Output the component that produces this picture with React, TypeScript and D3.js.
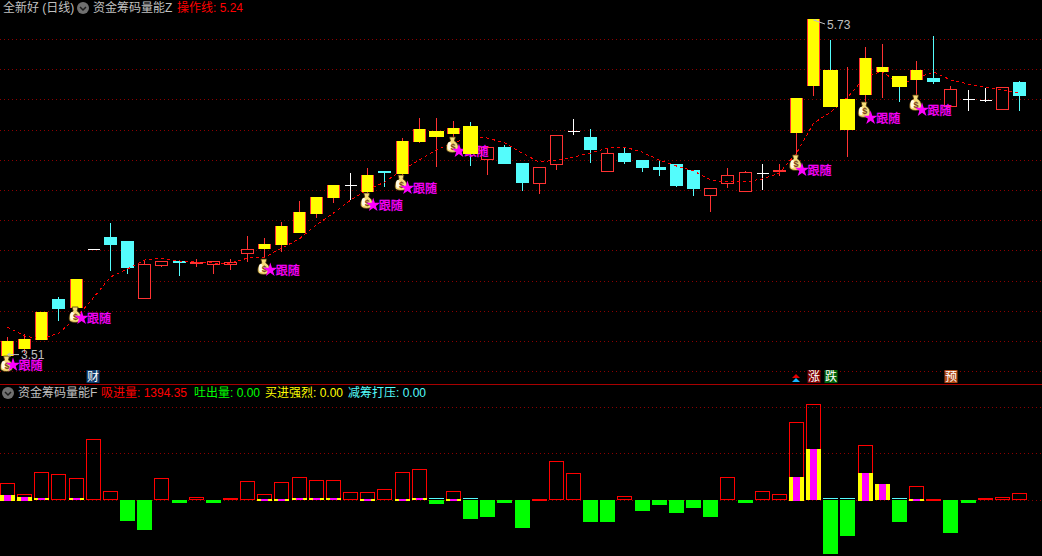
import React, { useEffect, useRef } from 'react';
import * as d3 from 'd3';

// Candles
const opens = [3.51, 3.553, 3.613, 3.878, 3.825, 4.209, 4.289, 4.262, 3.885, 4.103, 4.13, 4.116, 4.11, 4.11, 4.183, 4.216, 4.242, 4.322, 4.447, 4.553, 4.633, 4.593, 4.726, 4.712, 4.924, 4.957, 4.977, 5.024, 4.805, 4.884, 4.779, 4.646, 4.772, 4.99, 4.951, 4.726, 4.845, 4.798, 4.752, 4.772, 4.732, 4.567, 4.646, 4.593, 4.712, 4.726, 4.984, 5.295, 5.395, 5.004, 5.236, 5.388, 5.355, 5.335, 5.341, 5.156, 5.202, 5.196, 5.136, 5.315];
const closes = [3.6, 3.613, 3.792, 3.818, 4.01, 4.209, 4.242, 4.09, 4.11, 4.13, 4.123, 4.123, 4.13, 4.123, 4.209, 4.242, 4.361, 4.454, 4.553, 4.633, 4.633, 4.699, 4.719, 4.924, 5.004, 4.99, 5.01, 4.845, 4.884, 4.779, 4.653, 4.752, 4.964, 4.99, 4.871, 4.845, 4.792, 4.752, 4.739, 4.633, 4.613, 4.613, 4.699, 4.719, 4.712, 4.732, 5.209, 5.732, 5.156, 5.202, 5.474, 5.415, 5.289, 5.395, 5.322, 5.269, 5.202, 5.196, 5.282, 5.229];
const highs = [3.626, 3.646, 3.792, 3.891, 4.01, 4.209, 4.381, 4.262, 4.13, 4.13, 4.13, 4.143, 4.13, 4.143, 4.295, 4.282, 4.388, 4.527, 4.553, 4.633, 4.712, 4.745, 4.726, 4.944, 5.077, 5.077, 5.057, 5.05, 4.884, 4.898, 4.779, 4.752, 4.964, 5.07, 5.004, 4.878, 4.884, 4.798, 4.792, 4.772, 4.732, 4.613, 4.745, 4.726, 4.772, 4.772, 5.209, 5.732, 5.593, 5.415, 5.547, 5.567, 5.355, 5.454, 5.62, 5.289, 5.262, 5.275, 5.282, 5.322];
const lows = [3.51, 3.52, 3.613, 3.732, 3.792, 4.209, 4.063, 4.043, 3.885, 4.09, 4.03, 4.09, 4.043, 4.07, 4.123, 4.149, 4.189, 4.322, 4.414, 4.514, 4.533, 4.533, 4.62, 4.666, 4.911, 4.752, 4.931, 4.759, 4.699, 4.772, 4.593, 4.573, 4.732, 4.964, 4.779, 4.726, 4.772, 4.719, 4.692, 4.62, 4.56, 4.454, 4.613, 4.593, 4.6, 4.692, 4.831, 5.222, 5.156, 4.818, 5.176, 5.209, 5.182, 5.229, 5.302, 5.156, 5.123, 5.182, 5.13, 5.123];
// 0 normal candle, 1 yellow with the red edge showing, 2 wide plain yellow
const highlight = [1, 1, 1, 0, 1, 0, 0, 0, 0, 0, 0, 0, 0, 0, 0, 1, 1, 1, 1, 1, 0, 1, 0, 1, 1, 2, 1, 2, 0, 0, 0, 0, 0, 0, 0, 0, 0, 0, 0, 0, 0, 0, 0, 0, 0, 0, 1, 1, 2, 2, 1, 1, 2, 1, 0, 0, 0, 0, 0, 0];
// 操作线
const operateLine = [3.692, 3.633, 3.613, 3.653, 3.752, 3.885, 4.024, 4.077, 4.136, 4.149, 4.13, 4.123, 4.116, 4.116, 4.149, 4.156, 4.216, 4.275, 4.368, 4.447, 4.533, 4.6, 4.653, 4.732, 4.798, 4.865, 4.911, 4.951, 4.944, 4.911, 4.845, 4.785, 4.798, 4.818, 4.845, 4.878, 4.884, 4.851, 4.798, 4.759, 4.726, 4.666, 4.653, 4.653, 4.673, 4.712, 4.845, 5.043, 5.116, 5.216, 5.348, 5.388, 5.295, 5.341, 5.381, 5.328, 5.302, 5.282, 5.262, 5.24];
const priceTicks = [5.6, 5.4, 5.2, 5.0, 4.8, 4.6, 4.4, 4.2, 4.0, 3.8, 3.6, 3.4];

// 跟随 signals
const signalBars = [0, 4, 15, 21, 23, 26, 46, 50, 53];
const bagPrices = [3.447, 3.772, 4.09, 4.527, 4.646, 4.898, 4.779, 5.13, 5.176];
const tagPrices = [3.441, 3.752, 4.07, 4.5, 4.613, 4.858, 4.732, 5.077, 5.13];

// Lower panel
const inflow = [3650, 1120, 5850, 5420, 4560, 12940, 1760, 0, 0, 4560, 0, 470, 0, 320, 3910, 1120, 3700, 4770, 4130, 4130, 1550, 1550, 2190, 5850, 6490, 0, 1760, 0, 0, 0, 0, 200, 8210, 5630, 0, 0, 690, 0, 0, 0, 0, 0, 4770, 0, 1760, 1120, 16600, 20470, 0, 0, 11650, 3330, 0, 2840, 200, 0, 0, 320, 470, 1394.35];
const outflow = [0, 0, 0, 0, 0, 0, 0, 4730, 6560, 0, 750, 0, 750, 0, 0, 0, 0, 0, 0, 0, 0, 0, 0, 0, 0, 970, 0, 4190, 3760, 750, 6130, 0, 0, 0, 4840, 4840, 0, 2470, 1180, 2900, 1830, 3760, 0, 750, 0, 0, 0, 0, 11720, 7850, 0, 0, 4840, 0, 0, 7200, 750, 0, 0, 0];
const strongBuy = [970, 540, 320, 0, 320, 0, 0, 0, 0, 0, 0, 0, 0, 0, 0, 150, 150, 320, 320, 320, 0, 150, 0, 150, 320, 0, 150, 0, 0, 0, 0, 0, 0, 0, 0, 0, 0, 0, 0, 0, 0, 0, 0, 0, 0, 0, 4840, 10860, 0, 0, 5700, 3330, 0, 150, 0, 0, 0, 0, 0, 0];
const pressure = [0, 0, 0, 0, 0, 0, 0, 0, 0, 0, 0, 0, 0, 0, 0, 0, 0, 0, 0, 0, 0, 0, 0, 0, 0, 150, 0, 150, 0, 0, 0, 0, 0, 0, 0, 0, 0, 0, 0, 0, 0, 0, 0, 0, 0, 0, 0, 0, 320, 320, 0, 0, 150, 0, 0, 0, 0, 0, 0, 0];
const volumeTicks = [20000, 10000, 0];

// Event tags under the candles
const eventBars = [5, 47, 48, 55];
const eventTexts = ['财', '涨', '跌', '预'];
const eventColors = ['#0e3a6b', '#7d0000', '#00640a', '#b04a16'];

const RED = '#ff3232';
const CYAN = '#54fcfc';
const MAGENTA = '#ff00ff';
const GREY = '#c0c0c0';
const FONT = '"Liberation Sans", "Noto Sans CJK SC", sans-serif';

const App: React.FC = () => {
  const svgRef = useRef<SVGSVGElement>(null);

  useEffect(() => {
    if (!svgRef.current) return;
    document.body.style.margin = '0';
    document.body.style.background = '#000';

    const svg = d3.select(svgRef.current);
    svg.selectAll('*').remove();
    svg.attr('width', 1042).attr('height', 556).style('display', 'block').style('font-family', FONT);

    svg.append('rect').attr('width', 1042).attr('height', 556).attr('fill', '#000');

    const bars = d3.range(opens.length);
    const xScale = d3.scaleLinear().domain([0, opens.length - 1]).range([7.5, 1019.5]);
    const yScale = d3.scaleLinear().domain([5.6, 3.4]).range([39, 371.2]);
    const vScale = d3.scaleLinear().domain([0, 20000]).range([499.5, 406.5]);

    const crisp = (v: number) => Math.round(v) + 0.5;

    // Grid
    const grid = svg.append('g').attr('shape-rendering', 'crispEdges');
    grid.selectAll('.price-grid')
      .data(priceTicks)
      .enter()
      .append('line')
      .attr('x1', 0)
      .attr('x2', 1042)
      .attr('y1', d => crisp(yScale(d)))
      .attr('y2', d => crisp(yScale(d)))
      .attr('stroke', '#8c0000')
      .attr('stroke-dasharray', '1 3');
    grid.selectAll('.volume-grid')
      .data(volumeTicks)
      .enter()
      .append('line')
      .attr('x1', 0)
      .attr('x2', 1042)
      .attr('y1', d => crisp(vScale(d)))
      .attr('y2', d => crisp(vScale(d)))
      .attr('stroke', '#8c0000')
      .attr('stroke-dasharray', '1 3');
    grid.append('line')
      .attr('x1', 0)
      .attr('x2', 1042)
      .attr('y1', 384.5)
      .attr('y2', 384.5)
      .attr('stroke', '#a80000');

    // Candles
    const candles = svg.append('g').attr('shape-rendering', 'crispEdges');
    const candle = candles.selectAll('.candle')
      .data(bars)
      .enter()
      .append('g');

    const wickColor = (i: number) => {
      if (opens[i] === closes[i]) return '#fff';
      return closes[i] > opens[i] ? RED : CYAN;
    };
    const bodyTop = (i: number) => Math.round(yScale(Math.max(opens[i], closes[i])));
    const bodyHeight = (i: number) => Math.round(Math.abs(yScale(opens[i]) - yScale(closes[i])));

    candle.append('line')
      .attr('x1', i => Math.floor(xScale(i)) + 0.5)
      .attr('x2', i => Math.floor(xScale(i)) + 0.5)
      .attr('y1', i => Math.round(yScale(highs[i])))
      .attr('y2', i => Math.round(yScale(lows[i])))
      .attr('stroke', wickColor);

    // a path, so that a flat body still strokes as a line
    candle.append('path')
      .attr('d', i => {
        const left = Math.round(xScale(i) - 6.5) + 0.5;
        return `M${left},${bodyTop(i) + 0.5}h12v${bodyHeight(i)}h-12Z`;
      })
      .attr('fill', i => (closes[i] > opens[i] ? '#000' : CYAN))
      .attr('stroke', wickColor);

    // 操作线
    const operatePath = d3.line<number>()
      .x((d, i) => xScale(i))
      .y(d => yScale(d));
    svg.append('path')
      .attr('d', operatePath(operateLine))
      .attr('fill', 'none')
      .attr('stroke', '#ff0000')
      .attr('stroke-width', 1)
      .attr('stroke-dasharray', '3 3')
      .attr('shape-rendering', 'crispEdges');

    // Yellow sticks lie over the line
    const edged = bars.filter(i => highlight[i] === 1);
    svg.append('g')
      .attr('shape-rendering', 'crispEdges')
      .selectAll('rect')
      .data(edged)
      .enter()
      .append('rect')
      .attr('x', i => Math.round(xScale(i) - 6.5) + 1)
      .attr('width', 11)
      .attr('y', bodyTop)
      .attr('height', i => Math.max(bodyHeight(i), 1) + 1)
      .attr('fill', '#ffff00');

    // 跟随 signals
    const star = d3.symbol().type(d3.symbolStar).size(62);
    const signal = svg.selectAll('.signal')
      .data(signalBars)
      .enter()
      .append('g');

    const bag = signal.append('g')
      .attr('transform', (d, i) => `translate(${xScale(d) - 1},${yScale(bagPrices[i])})`);
    bag.append('path')
      .attr('d', 'M-3,-8 L3,-8 L2,-4 C6,-2 6.5,3 5.5,5.5 C4,8 -4,8 -5.5,5.5 C-6.5,3 -6,-2 -2,-4 Z')
      .attr('fill', '#f6dc78')
      .attr('stroke', '#4a3208')
      .attr('stroke-width', 0.8);
    bag.append('ellipse')
      .attr('cx', -3)
      .attr('cy', 1)
      .attr('rx', 2)
      .attr('ry', 4)
      .attr('fill', '#fffbe6');
    bag.append('text')
      .attr('x', 0.5)
      .attr('y', 4.5)
      .attr('text-anchor', 'middle')
      .style('font-size', '9px')
      .style('font-weight', 'bold')
      .style('fill', '#7a4520')
      .text('$');

    signal.append('path')
      .attr('d', star() as string)
      .attr('transform', (d, i) => `translate(${xScale(d) + 5.5},${yScale(tagPrices[i])})`)
      .attr('fill', MAGENTA);

    signal.append('text')
      .attr('x', d => xScale(d) + 11)
      .attr('y', (d, i) => yScale(tagPrices[i]) + 5)
      .style('font-size', '12px')
      .style('fill', MAGENTA)
      .style('stroke', MAGENTA)
      .style('stroke-width', '0.3px')
      .text('跟随');

    // The wide sticks were drawn last and cover the neighbouring tag
    const wide = bars.filter(i => highlight[i] === 2);
    svg.append('g')
      .attr('shape-rendering', 'crispEdges')
      .selectAll('rect')
      .data(wide)
      .enter()
      .append('rect')
      .attr('x', i => Math.round(xScale(i) - 7.5))
      .attr('width', 15)
      .attr('y', bodyTop)
      .attr('height', i => Math.max(bodyHeight(i), 1) + 1)
      .attr('fill', '#ffff00');

    // High / low notes
    const noteLines = svg.append('g').attr('stroke', GREY).attr('fill', 'none');
    noteLines.append('path').attr('d', `M${xScale(0)},${yScale(3.51)} H19 M${xScale(0)},${yScale(3.51)} l3,-2 M${xScale(0)},${yScale(3.51)} l3,2`);
    noteLines.append('path').attr('d', `M${xScale(47)},${yScale(5.732) + 1} L825,24 M${xScale(47)},${yScale(5.732) + 1} l3,0`);

    svg.append('text')
      .attr('x', 21)
      .attr('y', yScale(3.51) + 4)
      .style('font-size', '12px')
      .style('fill', GREY)
      .text('3.51');
    svg.append('text')
      .attr('x', 827)
      .attr('y', 29)
      .style('font-size', '12px')
      .style('fill', GREY)
      .text('5.73');

    // Event tags
    const tag = svg.selectAll('.event')
      .data(eventBars)
      .enter()
      .append('g')
      .attr('transform', d => `translate(${Math.round(xScale(d))},377)`);
    tag.append('rect')
      .attr('x', -6.5)
      .attr('y', -7)
      .attr('width', 13)
      .attr('height', 13)
      .attr('fill', (d, i) => eventColors[i]);
    tag.append('text')
      .attr('y', 4)
      .attr('text-anchor', 'middle')
      .style('font-size', '12px')
      .style('fill', '#fff')
      .text((d, i) => eventTexts[i]);

    const arrow = svg.append('g').attr('transform', `translate(${xScale(46) - 0.5},378)`);
    arrow.append('path').attr('d', 'M-4,0 L0,-4 L4,0 Z').attr('fill', '#e00000');
    arrow.append('path').attr('d', 'M-4,4 L0,0 L4,4 Z').attr('fill', '#18b4ff');

    // Lower panel bars
    const volume = svg.append('g').attr('shape-rendering', 'crispEdges');
    const barLeft = (i: number) => Math.round(xScale(i) - 7.5);

    volume.selectAll('.outflow')
      .data(bars.filter(i => outflow[i] > 0))
      .enter()
      .append('rect')
      .attr('x', barLeft)
      .attr('width', 15)
      .attr('y', vScale(0))
      .attr('height', i => vScale(-outflow[i]) - vScale(0))
      .attr('fill', '#00ff00');

    volume.selectAll('.pressure')
      .data(bars.filter(i => pressure[i] > 0))
      .enter()
      .append('rect')
      .attr('x', barLeft)
      .attr('width', 15)
      .attr('y', i => Math.floor(vScale(pressure[i])))
      .attr('height', i => Math.max(1, Math.round(vScale(0) - vScale(pressure[i]))))
      .attr('fill', CYAN);

    volume.selectAll('.inflow')
      .data(bars.filter(i => inflow[i] > 0))
      .enter()
      .append('rect')
      .attr('x', i => barLeft(i) + 0.5)
      .attr('width', 14)
      .attr('y', i => crisp(vScale(inflow[i])))
      .attr('height', i => Math.max(1, Math.round(vScale(0) - vScale(inflow[i]))))
      .attr('fill', 'none')
      .attr('stroke', '#ff0000');

    const strong = bars.filter(i => strongBuy[i] > 0);
    volume.selectAll('.strong')
      .data(strong)
      .enter()
      .append('rect')
      .attr('x', barLeft)
      .attr('width', 15)
      .attr('y', i => Math.round(vScale(strongBuy[i])))
      .attr('height', i => Math.max(1, Math.round(vScale(0) - vScale(strongBuy[i])) + 1))
      .attr('fill', '#ffff00');
    volume.selectAll('.strong-core')
      .data(strong)
      .enter()
      .append('rect')
      .attr('x', i => barLeft(i) + 4)
      .attr('width', 7)
      .attr('y', i => Math.round(vScale(strongBuy[i])))
      .attr('height', i => Math.max(1, Math.round(vScale(0) - vScale(strongBuy[i])) + 1))
      .attr('fill', MAGENTA);

    // Title rows
    const chevron = (x: number, y: number) => {
      const g = svg.append('g').attr('transform', `translate(${x},${y})`);
      g.append('circle').attr('r', 6).attr('fill', '#707070');
      g.append('path').attr('d', 'M-3,-1 L0,2 L3,-1').attr('fill', 'none').attr('stroke', '#1c1c1c').attr('stroke-width', 1.5);
    };
    chevron(83, 8);
    chevron(8, 393);

    const last = opens.length - 1;
    const titles: [number, number, string, string][] = [
      [3, 12, '全新好 (日线)', GREY],
      [93, 12, '资金筹码量能Z', GREY],
      [177, 12, `操作线: ${operateLine[last].toFixed(2)}`, '#ff0000'],
      [18, 397, '资金筹码量能F', GREY],
      [101, 397, `吸进量: ${inflow[last].toFixed(2)}`, '#ff0000'],
      [194, 397, `吐出量: ${outflow[last].toFixed(2)}`, '#00ff00'],
      [265, 397, `买进强烈: ${strongBuy[last].toFixed(2)}`, '#ffff00'],
      [348, 397, `减筹打压: ${pressure[last].toFixed(2)}`, CYAN],
    ];
    svg.selectAll('.title')
      .data(titles)
      .enter()
      .append('text')
      .attr('x', d => d[0])
      .attr('y', d => d[1])
      .style('font-size', '12px')
      .style('fill', d => d[3])
      .text(d => d[2]);
  }, []);

  return <svg ref={svgRef}></svg>;
};

export default App;
